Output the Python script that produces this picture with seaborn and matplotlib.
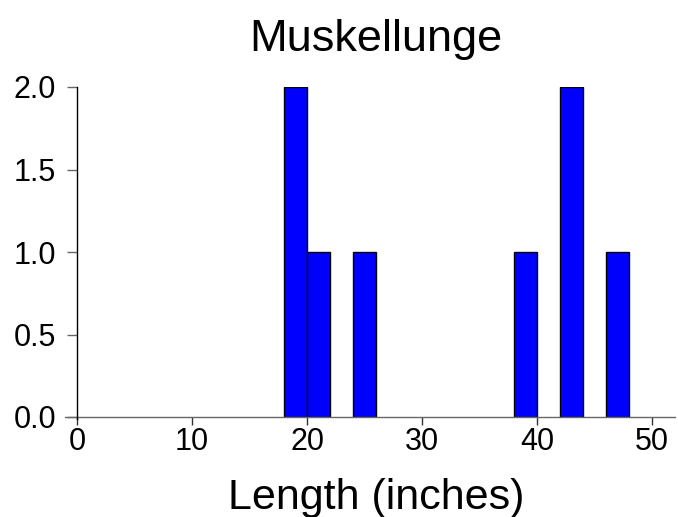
import numpy as np
import pandas as pd
import matplotlib
matplotlib.use("Agg")
import matplotlib.pyplot as plt
import seaborn as sns

# Histogram bins (left edge, inches) and fish counts per bin
bin_left = [18, 20, 24, 38, 42, 46]
counts = [2, 1, 1, 1, 2, 1]
bin_width = 2
x_ticks = [0, 10, 20, 30, 40, 50]
y_ticks = [0.0, 0.5, 1.0, 1.5, 2.0]

df = pd.DataFrame({
    "length": np.array(bin_left) + bin_width / 2,
    "count": counts,
})

sns.set_style("white")
plt.rcParams["font.family"] = ["Liberation Sans", "DejaVu Sans"]
plt.rcParams["text.color"] = "black"
plt.rcParams["axes.labelcolor"] = "black"
plt.rcParams["xtick.color"] = "black"
plt.rcParams["ytick.color"] = "black"

fig = plt.figure(figsize=(6.78, 5.17), dpi=100)
ax = fig.add_axes([65 / 678, 100 / 517, 610 / 678, 330 / 517])

sns.histplot(data=df, x="length", weights="count", binwidth=bin_width,
             binrange=(min(bin_left), max(bin_left) + bin_width), ax=ax,
             color="#0000FF", alpha=1, edgecolor="black", linewidth=1.0)
# drop empty bins so the baseline stays clean
for p in list(ax.patches):
    if p.get_height() == 0:
        p.remove()

ax.set_xlim(-1.05, 52)
ax.set_ylim(0, 2.0)
ax.set_xticks(x_ticks)
ax.set_xticklabels([str(t) for t in x_ticks])
ax.set_yticks(y_ticks)
ax.set_yticklabels([f"{t:.1f}" for t in y_ticks])

for s in ["top", "right"]:
    ax.spines[s].set_visible(False)
ax.spines["left"].set_position(("data", 0))
ax.spines["left"].set_bounds(-0.01, 2.0)
ax.spines["left"].set_color("black")
ax.spines["left"].set_linewidth(1.0)
ax.spines["bottom"].set_color("#666666")
ax.spines["bottom"].set_linewidth(1.0)
ax.spines["left"].set_zorder(3)

ax.tick_params(axis="y", left=True, length=7, width=1, color="#666666",
               labelcolor="black", labelsize=22, pad=8)
ax.tick_params(axis="x", bottom=True, length=6, width=1, color="#333333",
               labelcolor="black", labelsize=22, pad=1)
ax.set_ylabel("")
ax.set_xlabel("Length (inches)", fontsize=31, color="black")
ax.xaxis.set_label_coords((376 - 65) / 610, -0.185)
ax.set_title("Muskellunge", fontsize=32.5, pad=26, x=(376 - 65) / 610,
             color="black")

fig.savefig("out.png", dpi=100)
